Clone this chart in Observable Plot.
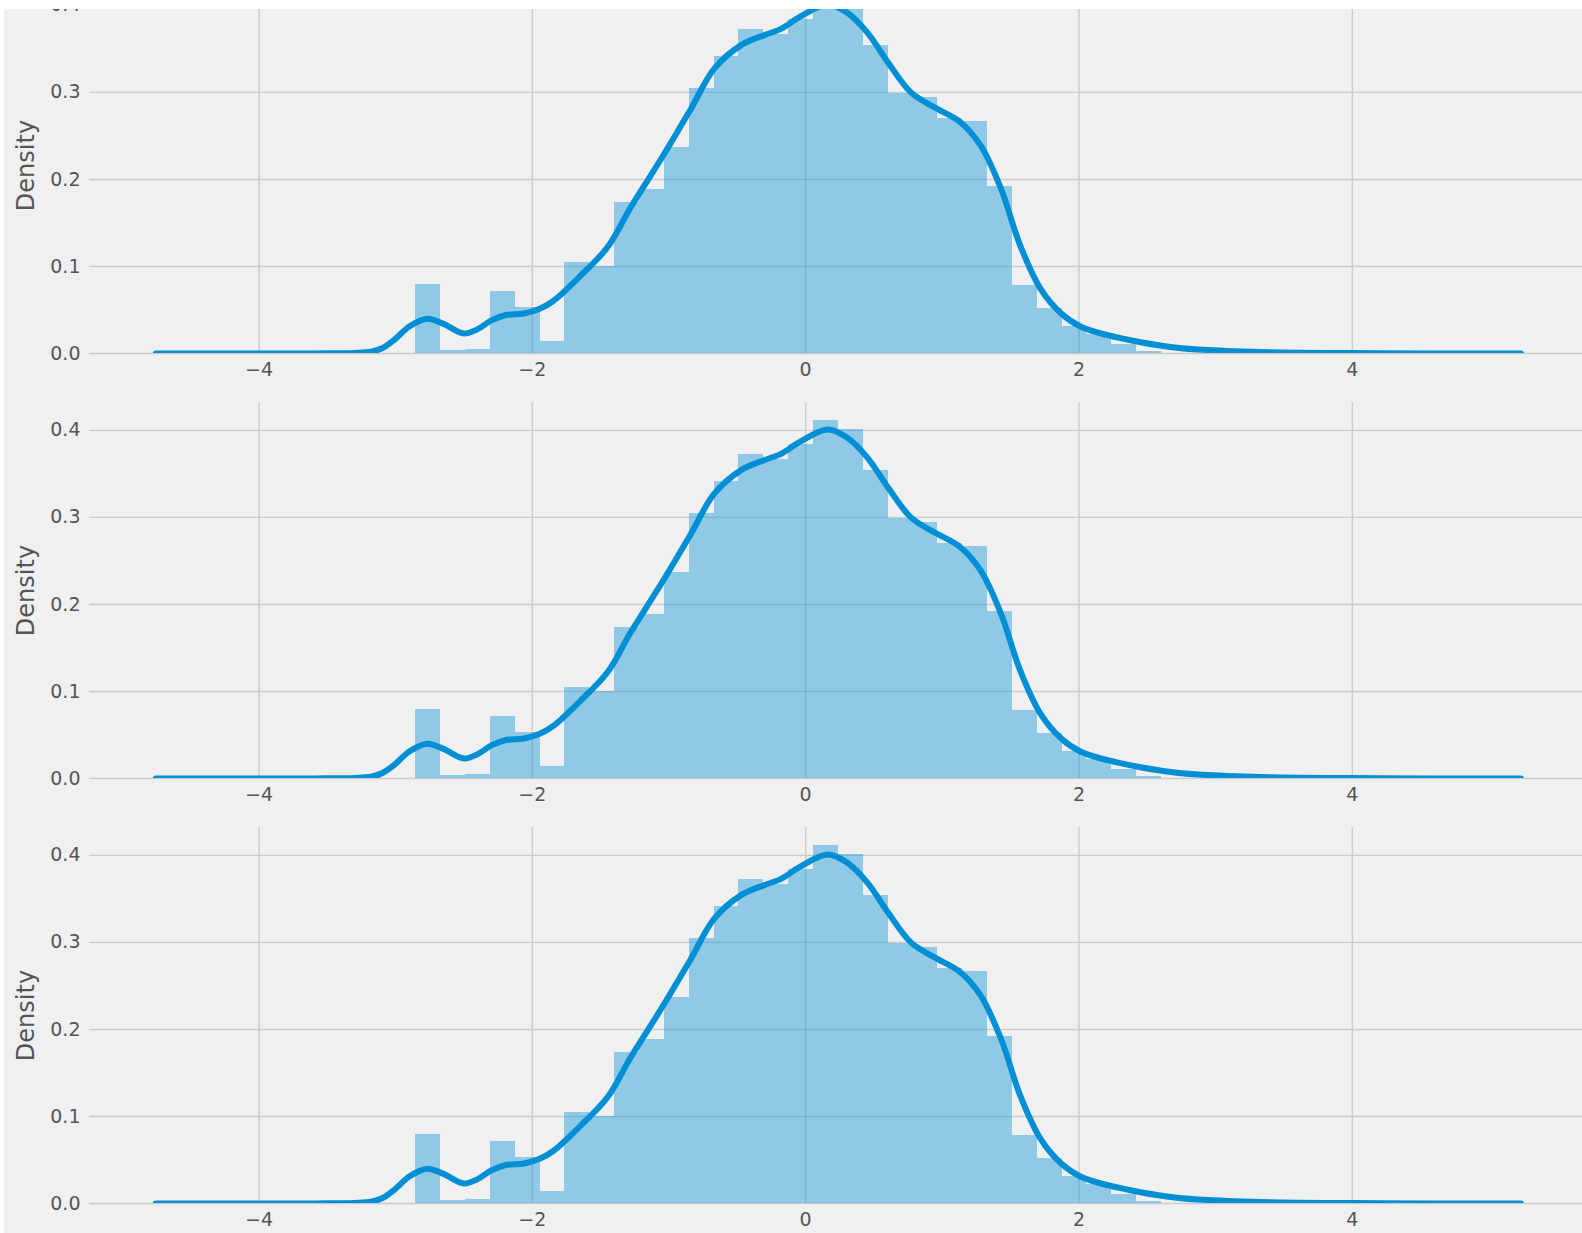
<!DOCTYPE html>
<html>
<head>
<meta charset="utf-8">
<script src="https://cdn.jsdelivr.net/npm/d3@7"></script>
<script src="https://cdn.jsdelivr.net/npm/@observablehq/plot@0.6"></script>
<style>
  html, body { margin: 0; padding: 0; background: #ffffff; }
  #fig { position: absolute; left: 4px; top: 9px; width: 1578px; height: 1224px; background: #f0f0f0; overflow: hidden; }
  #fig > svg { position: absolute; left: 0; }
</style>
</head>
<body>
<div id="fig"></div>
<script>
// ---- data ----
const binStart = -2.853;     // left edge of the first visible bin
const binWidth = 0.1819;     // histogram bin width
const binDensity = [
  0.079, 0.003, 0.005, 0.071, 0.053, 0.014, 0.104, 0.100, 0.173, 0.189,
  0.237, 0.305, 0.341, 0.372, 0.366, 0.384, 0.411, 0.401, 0.354, 0.299,
  0.294, 0.270, 0.266, 0.192, 0.078, 0.052, 0.031, 0.022, 0.010, 0.002
];
const kdeX = [
  -4.755, -3.6, -3.3, -3.18, -3.1, -3.0, -2.9, -2.77, -2.65, -2.5,
  -2.4, -2.3, -2.2, -2.06, -1.95, -1.85, -1.65, -1.45, -1.28, -1.04,
  -0.84, -0.67, -0.475, -0.3, -0.18, -0.04, 0.16, 0.3, 0.45, 0.6,
  0.77, 0.94, 1.13, 1.28, 1.43, 1.57, 1.72, 1.87, 2.01, 2.21,
  2.45, 2.7, 2.94, 3.4, 4.0, 4.6, 5.234
];
const kdeY = [
  0.0, 0.0001, 0.0006, 0.002, 0.006, 0.017, 0.031, 0.040, 0.034, 0.023,
  0.028, 0.038, 0.044, 0.046, 0.051, 0.060, 0.089, 0.122, 0.168, 0.228,
  0.281, 0.327, 0.354, 0.366, 0.373, 0.387, 0.401, 0.392, 0.369, 0.335,
  0.300, 0.283, 0.266, 0.239, 0.189, 0.124, 0.074, 0.046, 0.031, 0.021,
  0.013, 0.007, 0.004, 0.0015, 0.0005, 0.0001, 0.0
];
const xTicks = [-4, -2, 0, 2, 4];
const yTicks = [0, 0.1, 0.2, 0.3, 0.4];
const yLabel = "Density";
const panelCount = 3;

// ---- tables built from the arrays ----
const bins = binDensity.map((d, i) => ({
  x1: binStart + i * binWidth,
  x2: binStart + (i + 1) * binWidth,
  density: d
}));
const kde = kdeX.map((x, i) => ({x, y: kdeY[i]}));

const blue = "#008fd5";
const grid = "#cbcbcb";
const textColor = "#555555";
const axesHeight = 376;
const mTop = 10, mBottom = 35;
const panelTops = [-42.5, 382.9, 808.3];

const fmtX = d => (d < 0 ? "\u2212" + Math.abs(d) : String(d));

const fig = document.getElementById("fig");
for (let p = 0; p < panelCount; p++) {
  const chart = Plot.plot({
    width: 1578,
    height: mTop + axesHeight + mBottom,
    marginLeft: 85,
    marginRight: 0,
    marginTop: mTop,
    marginBottom: mBottom,
    style: {
      background: "transparent",
      fontFamily: "'DejaVu Sans', sans-serif",
      fontSize: "19px",
      color: textColor,
      overflow: "visible"
    },
    x: {domain: [-5.24, 5.684], label: null},
    y: {domain: [0, 0.432], label: null},
    marks: [
      Plot.gridX(xTicks, {stroke: grid, strokeOpacity: 1, strokeWidth: 1.4}),
      Plot.gridY(yTicks, {stroke: grid, strokeOpacity: 1, strokeWidth: 1.4}),
      Plot.rectY(bins, {
        x1: "x1", x2: "x2", y: "density",
        fill: blue, fillOpacity: 0.4, shapeRendering: "crispEdges"
      }),
      Plot.line(kde, {
        x: "x", y: "y", stroke: blue, strokeWidth: 6,
        curve: "catmull-rom", clip: true
      }),
      Plot.axisX(xTicks, {
        tickSize: 0, tickPadding: 9, tickFormat: fmtX,
        fontSize: 19, fill: textColor, label: null
      }),
      Plot.axisY(yTicks, {
        tickSize: 0, tickPadding: 9, tickFormat: d3.format(".1f"),
        fontSize: 19, fill: textColor, label: null
      }),
      Plot.text([yLabel], {
        text: d => d, frameAnchor: "left", rotate: -90, dx: -63,
        fontSize: 24, fill: textColor, lineAnchor: "middle", textAnchor: "middle"
      })
    ]
  });
  chart.style.top = panelTops[p] + "px";
  fig.appendChild(chart);
}
</script>
</body>
</html>
